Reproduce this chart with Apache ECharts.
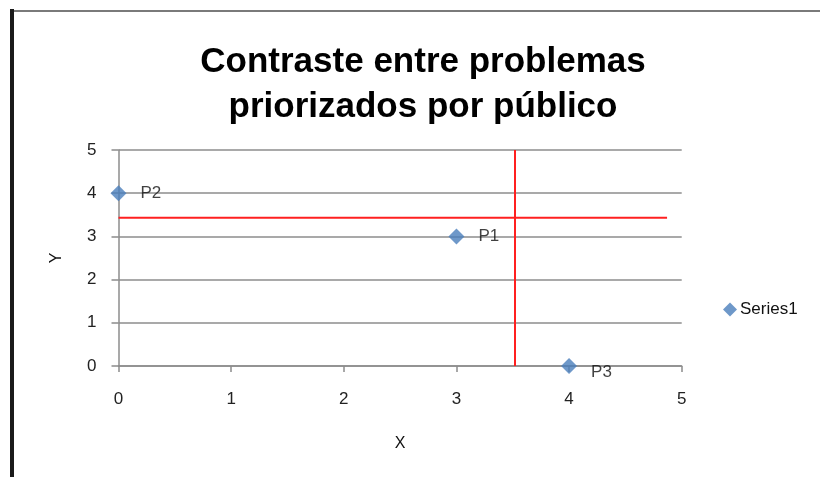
<!DOCTYPE html>
<html>
<head>
<meta charset="utf-8">
<script src="https://cdn.jsdelivr.net/npm/echarts@6/dist/echarts.min.js"></script>
<style>
  html, body { margin: 0; padding: 0; background: #fff; }
  #chart { width: 820px; height: 477px; }
</style>
</head>
<body>
<div id="chart"></div>
<script>
// Problems prioritised by the public: position on X / Y
const pointNames = ['P1', 'P2', 'P3'];
const pointX = [3, 0, 4];
const pointY = [3, 4, 0];

// Reference cut lines (red)
const cutY = 3.43;          // horizontal line level
const cutYSpan = [0, 4.87]; // x extent of the horizontal line
const cutX = 3.52;          // vertical line position
const cutXSpan = [0, 5];    // y extent of the vertical line

const axisTicks = [0, 1, 2, 3, 4, 5];

const chart = echarts.init(document.getElementById('chart'));

const points = pointNames.map((n, i) => ({
  name: n,
  value: [pointX[i], pointY[i]],
  label: pointY[i] === 0 ? { offset: [0, 6] } : {}
}));

chart.setOption({
  backgroundColor: '#fff',
  animation: false,
  title: {
    text: 'Contraste entre problemas\npriorizados por público',
    left: 418,
    top: 35,
    textAlign: 'center',
    textStyle: {
      fontFamily: 'Liberation Sans',
      fontWeight: 'bold',
      fontSize: 35,
      lineHeight: 45,
      color: '#000'
    }
  },
  legend: {
    data: ['Series1'],
    left: 718,
    top: 296,
    itemWidth: 14,
    itemHeight: 14,
    itemGap: 4,
    textStyle: { fontFamily: 'Liberation Sans', fontSize: 17, color: '#111', padding: [0, 0, 0, -2] }
  },
  grid: { left: 118.5, right: 138.3, top: 150, bottom: 111, containLabel: false },
  xAxis: {
    type: 'value',
    min: axisTicks[0],
    max: axisTicks[axisTicks.length - 1],
    interval: 1,
    name: 'X',
    nameLocation: 'middle',
    nameGap: 70,
    nameTextStyle: { fontFamily: 'Liberation Sans', fontSize: 16, color: '#111' },
    axisLine: { show: true, lineStyle: { color: '#8c8c8c', width: 1.5 } },
    axisTick: { show: true, length: 6, lineStyle: { color: '#8c8c8c', width: 1.5 } },
    axisLabel: { margin: 25, fontFamily: 'Liberation Sans', fontSize: 17, color: '#222' },
    splitLine: { show: false }
  },
  yAxis: {
    type: 'value',
    min: axisTicks[0],
    max: axisTicks[axisTicks.length - 1],
    interval: 1,
    name: 'Y',
    nameLocation: 'middle',
    nameGap: 54,
    nameRotate: 90,
    nameTextStyle: { fontFamily: 'Liberation Sans', fontSize: 16, color: '#111' },
    axisLine: { show: true, lineStyle: { color: '#8c8c8c', width: 1.5 } },
    axisTick: { show: true, length: 7, lineStyle: { color: '#8c8c8c', width: 1.5 } },
    axisLabel: { margin: 22, fontFamily: 'Liberation Sans', fontSize: 17, color: '#222' },
    splitLine: { show: true, lineStyle: { color: '#8c8c8c', width: 1.5 } }
  },
  graphic: [
    { type: 'line', silent: true, z: 100,
      shape: { x1: 10, y1: 11, x2: 820, y2: 11 },
      style: { stroke: '#7a7a7a', lineWidth: 2 } },
    { type: 'line', silent: true, z: 100,
      shape: { x1: 12, y1: 9, x2: 12, y2: 477 },
      style: { stroke: '#1a1a1a', lineWidth: 4 } }
  ],
  series: [
    {
      name: 'Series1',
      type: 'scatter',
      symbol: 'diamond',
      symbolSize: 16,
      z: 5,
      itemStyle: { color: '#4a7ebb' },
      label: {
        show: true,
        position: 'right',
        distance: 14,
        formatter: p => p.name,
        fontFamily: 'Liberation Sans',
        fontSize: 17,
        color: '#111'
      },
      data: points
    },
    {
      name: 'cutH',
      type: 'line',
      symbol: 'none',
      z: 3,
      lineStyle: { color: '#ff2020', width: 2 },
      data: [[cutYSpan[0], cutY], [cutYSpan[1], cutY]]
    },
    {
      name: 'cutV',
      type: 'line',
      symbol: 'none',
      z: 3,
      lineStyle: { color: '#ff2020', width: 2 },
      data: [[cutX, cutXSpan[0]], [cutX, cutXSpan[1]]]
    }
  ]
});
</script>
</body>
</html>
